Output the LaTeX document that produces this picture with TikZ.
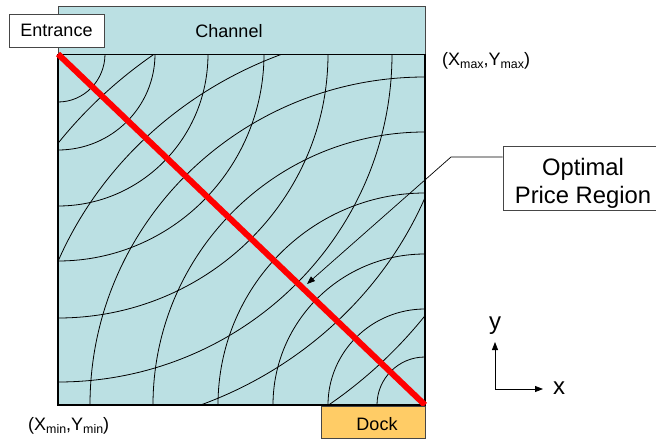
\documentclass[tikz,border=0pt]{standalone}
\usepackage{fontspec}
\setmainfont{Liberation Sans}
\usetikzlibrary{arrows.meta}
\definecolor{water}{RGB}{187,224,227}
\definecolor{dockc}{RGB}{255,204,102}
\definecolor{edgegray}{RGB}{70,70,70}
\newcommand{\subtxt}[1]{\raisebox{-3pt}{\fontsize{12.4}{13}\selectfont #1}}
\begin{document}
\begin{tikzpicture}[x=1pt,y=-1pt,
  contour/.style={line width=0.8pt, black},
  lbl/.style={font=\fontsize{18}{21}\selectfont, inner sep=0pt},
  bigl/.style={font=\fontsize{24}{28}\selectfont, inner sep=0pt},
  labelbox/.style={draw=edgegray, line width=0.8pt, fill=white, font=\fontsize{18}{21}\selectfont, inner sep=0pt},
  conn/.style={line width=0.7pt, black, -{Triangle[length=8pt,width=6pt]}},
  axis/.style={line width=0.8pt, black, {Triangle[length=8pt,width=6pt]}-{Triangle[length=8pt,width=6pt]}}]
\useasboundingbox (0,0) rectangle (656,447);
% corners
\coordinate (TL) at (58,54);
\coordinate (BR) at (425,405);
% water area
\fill[water] (58,6) rectangle (425,405);
% contour arcs
\begin{scope}
\clip (58,54) rectangle (425,405);
\foreach \a/\b in {47/48,97/96,150/152,206/207,270/264,334/328,397/376,460/434}
  \draw[contour] (TL) ellipse [x radius=\a, y radius=\b];
\foreach \a/\b in {48/48,97/96,152/151,207/212,272/273,335/328,397/376,460/434}
  \draw[contour] (BR) ellipse [x radius=\a, y radius=\b];
\end{scope}
% channel
\draw[edgegray, line width=0.8pt] (58,6) rectangle (425,54);
\node[lbl, anchor=base] (channel) at (229,37) {Channel};
% main border
\draw[black, line width=1.6pt] (TL) -- (58,405) -- (BR) -- (425,54);
\draw[black, line width=1pt] (TL) -- (425,54);
% optimal line
\draw[red, line width=6pt] (TL) -- (BR);
% entrance
\node[labelbox, minimum width=95pt, minimum height=33pt] (entrance) at (56.5,30.5) {Entrance};
% dock
\node[draw=edgegray, line width=0.8pt, fill=dockc, minimum width=104pt, minimum height=32pt, inner sep=0pt] (dock) at (373,422) {};
\node[lbl, anchor=base] (docktxt) at (377,430) {Dock};
% corner labels
\node[lbl, anchor=base west] (cmax) at (442,65) {(X\subtxt{max},Y\subtxt{max})};
\node[lbl, anchor=base west] (cmin) at (28,430) {(X\subtxt{min},Y\subtxt{min})};
% optimal price region callout
\node[draw=edgegray, line width=0.8pt, fill=white, minimum width=160pt, minimum height=64pt, inner sep=0pt] (opt) at (583,178) {};
\node[align=center, font=\fontsize{23.8}{28}\selectfont, inner sep=0pt] (opttxt) at (583,183) {Optimal\\Price Region};
\coordinate (bend) at (451,157);
\coordinate (ptip) at (307,284);
\draw[conn] (opt.west |- bend) -- (bend) -- (ptip);
% axes
\coordinate (O) at (495,389);
\coordinate (yend) at (495,342);
\coordinate (xend) at (543,389);
\draw[axis] (yend) -- (O) -- (xend);
\node[bigl, anchor=base] (ylab) at (495,329) {y};
\node[bigl, anchor=base] (xlab) at (559,394) {x};
\end{tikzpicture}
\end{document}
